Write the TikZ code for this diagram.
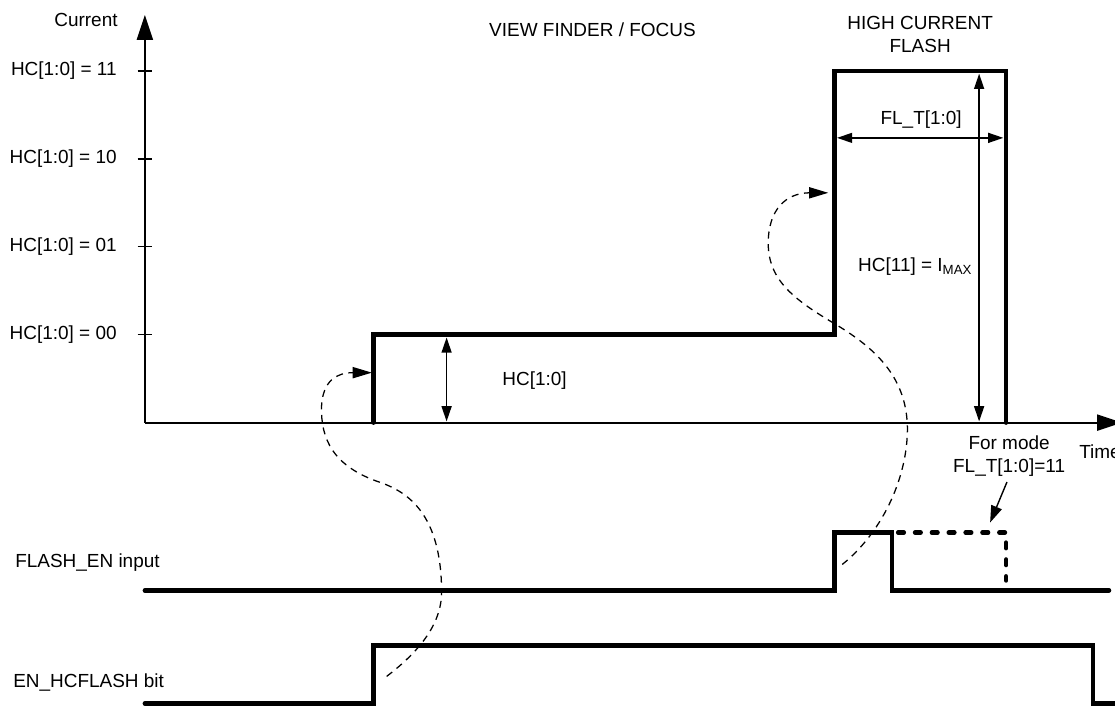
\documentclass[tikz,border=0pt]{standalone}
\usepackage{fontspec}
\setmainfont{Liberation Sans}
\usetikzlibrary{arrows.meta}

\begin{document}
\begin{tikzpicture}[
  every node/.style={font=\fontsize{13.5}{16.5}\selectfont, inner sep=0pt},
  axis/.style={line width=1.4pt, -{Triangle[length=0.62cm,width=0.4cm]}},
  wave/.style={line width=3.2pt, line cap=round, line join=miter},
  dotwave/.style={line width=3.2pt, line cap=round, dash pattern=on 4pt off 8pt},
  dimarrow/.style={line width=1pt, {Triangle[length=0.38cm,width=0.25cm]}-{Triangle[length=0.38cm,width=0.25cm]}},
  pointer/.style={line width=1pt, -{Triangle[length=0.42cm,width=0.28cm]}},
  link/.style={line width=0.9pt, dash pattern=on 5pt off 4pt, -{Triangle[length=0.48cm,width=0.28cm]}}
]
\useasboundingbox (-3.625,-7.1) rectangle (24.275,10.575);

% axes
\coordinate (origin) at (0,0);
\coordinate (ytip) at (0,10.2);
\coordinate (xtip) at (24.45,0);
\draw[axis] (origin) -- (ytip);
\draw[axis] (origin) -- (xtip);
\node[anchor=east] (current) at (-0.675,10.075) {Current};
\node[anchor=west] (time) at (23.375,-0.725) {Time};

% levels
\foreach \lv/\yy in {11/8.8,10/6.6,01/4.4,00/2.2}{
  \draw[line width=1pt] (-0.18,\yy) -- (0.18,\yy);
  \node[anchor=east] (lvl\lv) at (-0.7,\yy) {HC[1:0] = \lv};
}

\node (viewfinder) at (11.2,9.825) {VIEW FINDER / FOCUS};
\node[align=center] (hcflash) at (19.4,9.71) {HIGH CURRENT\\FLASH};

% current waveform
\draw[wave] (5.725,0) -- (5.725,2.2) -- (17.25,2.2) -- (17.25,8.8)
  -- (21.55,8.8) -- (21.55,0);

% dimensions
\draw[dimarrow] (7.55,0.03) -- (7.55,2.13);
\node (hcsel) at (9.75,1.05) {HC[1:0]};
\draw[dimarrow] (17.32,7.125) -- (21.48,7.125);
\node (fltime) at (19.425,7.575) {FL\_T[1:0]};
\draw[dimarrow] (20.875,0.03) -- (20.875,8.73);
\node (imax) at (19.275,3.9) {HC[11] = I\textsubscript{MAX}};

% FLASH_EN input
\node[anchor=west] (flashen) at (-3.25,-3.5) {FLASH\_EN input};
\draw[wave] (0,-4.2) -- (17.25,-4.2) -- (17.25,-2.75) -- (18.7,-2.75)
  -- (18.7,-4.2) -- (24.125,-4.2);
\draw[dotwave] (18.85,-2.75) -- (21.55,-2.75) -- (21.55,-3.95);
\node[align=center] (formode) at (21.625,-0.84) {For mode\\FL\_T[1:0]=11};
\coordinate (dotcorner) at (21.15,-2.5);
\draw[pointer, shorten <=4pt] (formode.south) -- (dotcorner);

% EN_HCFLASH bit
\node[anchor=west] (enbit) at (-3.3,-6.5) {EN\_HCFLASH bit};
\draw[wave] (0,-7.025) -- (5.725,-7.025) -- (5.725,-5.575) -- (23.725,-5.575)
  -- (23.725,-7.025) -- (24.4,-7.025);

% causes
\coordinate (enstart) at (6.05,-6.35);
\coordinate (vfstep) at (5.68,1.25);
\draw[link] (enstart) .. controls (6.9,-5.7) and (7.45,-5.0) .. (7.425,-4.175)
  .. controls (7.4,-2.3) and (6.6,-1.75) .. (5.9,-1.5)
  .. controls (4.7,-1.1) and (4.4,-0.4) .. (4.42,0.4)
  .. controls (4.45,1.05) and (4.8,1.25) .. (vfstep);
\coordinate (flstart) at (17.45,-3.55);
\coordinate (hcstep) at (17.1,5.75);
\draw[link] (flstart) .. controls (18.5,-2.7) and (19.1,-1.3) .. (19.08,-0.1)
  .. controls (19.05,1.2) and (18.2,1.9) .. (17.3,2.45)
  .. controls (16.2,3.1) and (15.55,3.6) .. (15.6,4.6)
  .. controls (15.65,5.5) and (16.2,5.75) .. (hcstep);
\end{tikzpicture}
\end{document}
